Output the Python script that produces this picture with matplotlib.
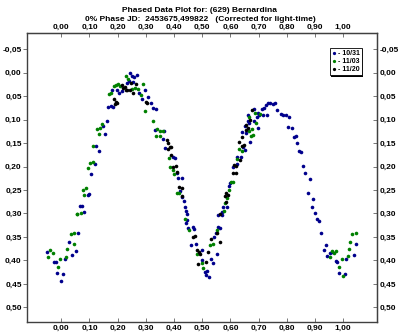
import numpy as np
import matplotlib
matplotlib.use("Agg")
import matplotlib.pyplot as plt
from matplotlib.ticker import FuncFormatter
from matplotlib.patches import Rectangle

# phase / magnitude pairs, one set per night
phase_1031 = [-0.050, -0.026, -0.020, -0.016, 0.007, 0.000, 0.013, 0.039, 0.052, 0.028,
              0.060, 0.066, 0.073, 0.080, 0.094, 0.099, 0.120, 0.105, 0.123, 0.133,
              0.147, 0.155, 0.161, 0.167, 0.175, 0.179, 0.199, 0.206, 0.214, 0.184,
              0.234, 0.244, 0.250, 0.258, 0.267, 0.241, 0.255, 0.277, 0.297, 0.285,
              0.309, 0.318, 0.324, 0.336, 0.332, 0.365, 0.360, 0.368, 0.395, 0.403,
              0.409, 0.415, 0.427, 0.421, 0.430, 0.435, 0.439, 0.442, 0.447, 0.445,
              0.442, 0.448, 0.468, 0.471, 0.462, 0.478, 0.498, 0.498, 0.510, 0.518,
              0.513, 0.525, 0.530, 0.537, 0.551, 0.542, 0.549, 0.557, 0.563, 0.557,
              0.569, 0.572, 0.574, 0.589, 0.596, 0.598, 0.624, 0.610, 0.624, 0.636,
              0.645, 0.651, 0.669, 0.643, 0.655, 0.651, 0.667, 0.699, 0.663, 0.683,
              0.663, 0.683, 0.695, 0.702, 0.699, 0.711, 0.718, 0.716, 0.730, 0.726,
              0.734, 0.740, 0.750, 0.758, 0.764, 0.778, 0.785, 0.797, 0.809, 0.805,
              0.817, 0.826, 0.833, 0.837, 0.844, 0.852, 0.858, 0.865, 0.884, 0.876,
              0.894, 0.891, 0.900, 0.906, 0.915, 0.923, 0.932, 0.939, 0.943, 0.953,
              0.962, 0.974, 0.979, 0.986, 1.006, 1.012, 1.038, 1.047]
mag_1031 = [0.382, 0.403, 0.403, 0.426, 0.429, 0.444, 0.398, 0.389, 0.379, 0.360,
            0.342, 0.284, 0.284, 0.297, 0.261, 0.259, 0.195, 0.216, 0.156, 0.166,
            0.114, 0.131, 0.102, 0.074, 0.072, 0.038, 0.037, 0.044, 0.040, 0.074,
            0.022, 0.001, 0.007, 0.010, 0.005, 0.017, 0.021, 0.044, 0.038, 0.057,
            0.051, 0.065, 0.076, 0.078, 0.122, 0.124, 0.142, 0.161, 0.179, 0.182,
            0.214, 0.225, 0.225, 0.252, 0.264, 0.273, 0.286, 0.294, 0.301, 0.314,
            0.320, 0.332, 0.328, 0.334, 0.367, 0.364, 0.378, 0.399, 0.424, 0.422,
            0.431, 0.435, 0.398, 0.405, 0.387, 0.350, 0.341, 0.328, 0.332, 0.303,
            0.296, 0.303, 0.286, 0.286, 0.241, 0.236, 0.195, 0.202, 0.180, 0.180,
            0.159, 0.165, 0.147, 0.126, 0.128, 0.114, 0.107, 0.118, 0.104, 0.104,
            0.090, 0.078, 0.094, 0.090, 0.085, 0.078, 0.076, 0.090, 0.090, 0.069,
            0.065, 0.064, 0.067, 0.065, 0.079, 0.088, 0.090, 0.090, 0.095, 0.116,
            0.118, 0.138, 0.136, 0.150, 0.166, 0.170, 0.199, 0.213, 0.227, 0.256,
            0.270, 0.287, 0.298, 0.312, 0.315, 0.342, 0.378, 0.367, 0.391, 0.384,
            0.382, 0.401, 0.403, 0.426, 0.428, 0.398, 0.389, 0.364]

phase_1103 = [-0.040, -0.028, -0.046, -0.005, -0.011, 0.017, 0.021, 0.046, 0.033, 0.046,
              0.055, 0.056, 0.069, 0.076, 0.088, 0.082, 0.096, 0.102, 0.111, 0.113,
              0.128, 0.137, 0.143, 0.135, 0.170, 0.175, 0.187, 0.194, 0.202, 0.208,
              0.229, 0.238, 0.261, 0.250, 0.273, 0.282, 0.289, 0.297, 0.324, 0.340,
              0.350, 0.360, 0.336, 0.350, 0.383, 0.385, 0.395, 0.401, 0.411, 0.418,
              0.439, 0.454, 0.482, 0.501, 0.504, 0.527, 0.537, 0.553, 0.577, 0.580,
              0.589, 0.596, 0.601, 0.608, 0.624, 0.631, 0.640, 0.667, 0.675, 0.673,
              0.681, 0.690, 0.667, 0.687, 0.705, 0.959, 0.967, 0.974, 0.953, 0.986,
              1.000, 0.995, 1.016, 1.021, 1.026, 1.033, 1.047]
mag_1103 = [0.378, 0.384, 0.392, 0.396, 0.415, 0.392, 0.376, 0.364, 0.344, 0.341,
            0.302, 0.301, 0.300, 0.249, 0.246, 0.261, 0.204, 0.193, 0.190, 0.156,
            0.121, 0.118, 0.109, 0.131, 0.045, 0.043, 0.028, 0.026, 0.025, 0.028,
            0.008, 0.014, 0.033, 0.035, 0.035, 0.047, 0.024, 0.081, 0.102, 0.121,
            0.124, 0.124, 0.135, 0.136, 0.182, 0.202, 0.207, 0.216, 0.256, 0.256,
            0.312, 0.335, 0.386, 0.406, 0.417, 0.367, 0.364, 0.335, 0.294, 0.278,
            0.266, 0.250, 0.232, 0.232, 0.185, 0.163, 0.166, 0.124, 0.121, 0.136,
            0.133, 0.108, 0.094, 0.086, 0.088, 0.379, 0.384, 0.379, 0.393, 0.415,
            0.433, 0.396, 0.391, 0.376, 0.360, 0.344, 0.341]

phase_1120 = [0.187, 0.194, 0.199, 0.190, 0.220, 0.226, 0.229, 0.214, 0.246, 0.234,
              0.244, 0.253, 0.265, 0.300, 0.305, 0.374, 0.380, 0.380, 0.385, 0.391,
              0.388, 0.397, 0.407, 0.411, 0.418, 0.427, 0.427, 0.466, 0.474, 0.480,
              0.489, 0.492, 0.486, 0.515, 0.521, 0.533, 0.551, 0.563, 0.563, 0.584,
              0.592, 0.580, 0.586, 0.610, 0.619, 0.612, 0.619, 0.634, 0.640, 0.648,
              0.631, 0.640, 0.657, 0.663, 0.657, 0.669, 0.675]
mag_1120 = [0.057, 0.062, 0.064, 0.067, 0.033, 0.030, 0.037, 0.026, 0.022, 0.038,
            0.038, 0.043, 0.025, 0.062, 0.064, 0.143, 0.149, 0.163, 0.158, 0.159,
            0.175, 0.200, 0.199, 0.211, 0.243, 0.246, 0.263, 0.350, 0.348, 0.378,
            0.382, 0.386, 0.408, 0.403, 0.382, 0.355, 0.342, 0.360, 0.301, 0.275,
            0.261, 0.263, 0.256, 0.214, 0.213, 0.197, 0.199, 0.186, 0.156, 0.154,
            0.147, 0.138, 0.122, 0.118, 0.112, 0.101, 0.079]

x_ticks = np.arange(0, 1.0001, 0.1)
y_ticks = np.arange(-0.05, 0.5001, 0.05)

plt.rcParams['font.family'] = ['Liberation Sans', 'DejaVu Sans']
plt.rcParams['font.weight'] = 'bold'

fig = plt.figure(figsize=(4.0, 3.35), dpi=100)
ax = fig.add_axes([0.068, 0.039, 0.875, 0.862])

ax.plot(phase_1031, mag_1031, 'o', color='#00008c', ms=2.6, mew=0, label='- 10/31')
ax.plot(phase_1103, mag_1103, 'o', color='#008000', ms=2.6, mew=0, label='- 11/03')
ax.plot(phase_1120, mag_1120, 'o', color='black', ms=2.6, mew=0, label='- 11/20')

ax.set_xlim(-0.121, 1.121)
ax.set_ylim(0.531, -0.084)

comma = FuncFormatter(lambda v, p: f"{v:.2f}".replace('.', ','))

for s in ax.spines.values():
    s.set_color('#404040')
    s.set_linewidth(1.0)

ax.set_xticks(x_ticks)
ax.set_yticks(y_ticks)
ax.xaxis.set_major_formatter(comma)
ax.yaxis.set_major_formatter(comma)
ax.tick_params(axis='x', direction='in', length=3, width=0.6, color='#606060',
               labelsize=6, pad=2)
ax.tick_params(axis='y', direction='out', length=3, width=0.6, color='#606060',
               labelsize=6, pad=1)

top = ax.secondary_xaxis('top')
top.set_xticks(x_ticks)
top.xaxis.set_major_formatter(comma)
top.tick_params(direction='in', length=3, width=0.6, color='#606060', labelsize=6, pad=2)

right = ax.secondary_yaxis('right')
right.set_yticks(y_ticks)
right.yaxis.set_major_formatter(comma)
right.tick_params(direction='in', length=3, width=0.6, color='#606060', labelsize=6, pad=2)
for sec in (top, right):
    for s in sec.spines.values():
        s.set_color('#404040')

leg = ax.legend(loc='upper right', bbox_to_anchor=(0.956, 0.949), borderaxespad=0,
                fontsize=5, frameon=True, fancybox=False, framealpha=1,
                handlelength=0.6, handletextpad=0.3, borderpad=0.3, labelspacing=0.15,
                markerscale=0.9)
leg.get_frame().set_edgecolor('black')
leg.get_frame().set_linewidth(0.6)
leg.set_zorder(5)

fig.text(0.5, 0.968, "Phased Data Plot for: (629) Bernardina", ha='center', va='center',
         fontsize=6, fontweight='bold')
fig.text(0.5, 0.941, "0% Phase JD:  2453675,499822   (Corrected for light-time)",
         ha='center', va='center', fontsize=6, fontweight='bold')

# thin drop shadow under the legend box
fig.canvas.draw()
bb = leg.get_window_extent()
shadow = Rectangle((bb.x0 + 1.5, bb.y0 - 1.5), bb.width, bb.height, transform=None,
                   facecolor='black', edgecolor='none', zorder=4)
ax.add_artist(shadow)

fig.savefig('out.png', dpi=100)
